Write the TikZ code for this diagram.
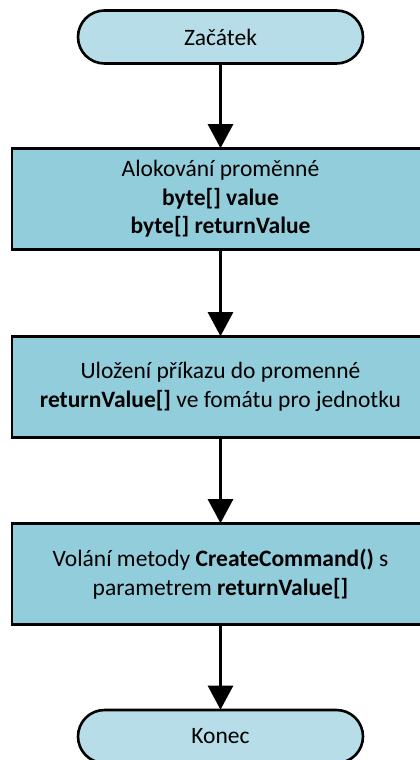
\documentclass[tikz,border=0pt]{standalone}
\usepackage{fontspec}
\setmainfont{Carlito}
\usetikzlibrary{arrows.meta}
\definecolor{termfill}{HTML}{B7DEE8}
\definecolor{procfill}{HTML}{92CDDC}
\begin{document}
\begin{tikzpicture}[x=1pt,y=-1pt,
  terminal/.style={draw=black, line width=2.6pt, fill=termfill, rounded corners=26.5pt,
    minimum width=285pt, minimum height=53pt, inner sep=0pt, align=center,
    font=\fontsize{23.5}{28}\selectfont},
  process/.style={draw=black, line width=2.6pt, fill=procfill,
    minimum width=417pt, minimum height=101pt, inner sep=0pt, align=center,
    font=\fontsize{23.5}{28.5}\selectfont},
  flow/.style={line width=2.6pt, -{Triangle[length=24pt,width=25pt]}, shorten >=-1pt}]
\useasboundingbox (0,0) rectangle (420,760);
\clip (0,0) rectangle (420,760);

\node[terminal] (start) at (220.5,37) {Začátek};
\node[process] (alloc) at (220.5,199) {Alokování proměnné\\\textbf{byte[] value}\\\textbf{byte[] returnValue}};
\node[process] (store) at (220.5,387) {Uložení příkazu do promenné\\\textbf{returnValue[]} ve fomátu pro jednotku};
\node[process] (call) at (220.5,574) {Volání metody \textbf{CreateCommand()} s\\parametrem \textbf{returnValue[]}};
\node[terminal] (end) at (220.5,736.5) {Konec};

\draw[flow] (start) -- (alloc);
\draw[flow] (alloc) -- (store);
\draw[flow] (store) -- (call);
\draw[flow] (call) -- (end);
\end{tikzpicture}
\end{document}
